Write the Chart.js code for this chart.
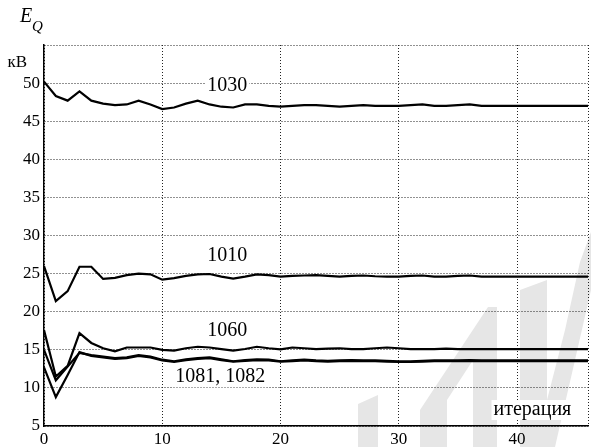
<!DOCTYPE html>
<html>
<head>
<meta charset="utf-8">
<script src="https://cdn.jsdelivr.net/npm/chart.js@4"></script>
<style>
  body { margin: 0; background: #fff; }
  #wrap { width: 591px; height: 447px; }
</style>
</head>
<body>
<div id="wrap"><canvas id="chart" width="591" height="447"></canvas></div>
<script>
// iteration numbers 0..46
const iterations = Array.from({ length: 47 }, (_, i) => i);

// E_Q, kV
const s1030 = [50.2, 48.3, 47.7, 48.9, 47.7, 47.3, 47.1, 47.2, 47.7, 47.2,
               46.6, 46.8, 47.3, 47.7, 47.2, 46.9, 46.8, 47.2, 47.2, 47.0,
               46.9, 47.0, 47.1, 47.1, 47.0, 46.9, 47.0, 47.1, 47.0, 47.0,
               47.0, 47.1, 47.2, 47.0, 47.0, 47.1, 47.2, 47.0, 47.0, 47.0,
               47.0, 47.0, 47.0, 47.0, 47.0, 47.0, 47.0];
const s1010 = [26.0, 21.4, 22.7, 25.9, 25.9, 24.3, 24.45, 24.8, 25.0, 24.9,
               24.2, 24.4, 24.7, 24.9, 24.95, 24.6, 24.35, 24.6, 24.9, 24.8,
               24.6, 24.7, 24.75, 24.8, 24.7, 24.6, 24.7, 24.75, 24.65, 24.6,
               24.6, 24.7, 24.75, 24.6, 24.6, 24.7, 24.75, 24.6, 24.6, 24.6,
               24.6, 24.6, 24.6, 24.6, 24.6, 24.6, 24.6];
const s1060 = [17.6, 11.5, 12.9, 17.2, 15.9, 15.2, 14.8, 15.3, 15.3, 15.3,
               15.0, 14.9, 15.2, 15.4, 15.3, 15.1, 14.9, 15.1, 15.4, 15.2,
               15.05, 15.3, 15.2, 15.1, 15.15, 15.2, 15.1, 15.1, 15.2, 15.3,
               15.2, 15.1, 15.1, 15.1, 15.15, 15.1, 15.1, 15.1, 15.1, 15.1,
               15.1, 15.1, 15.1, 15.1, 15.1, 15.1, 15.1];
const s1081 = [15.0, 11.0, 12.8, 14.6, 14.3, 14.1, 13.9, 14.0, 14.3, 14.1,
               13.7, 13.5, 13.75, 13.9, 14.0, 13.75, 13.5, 13.65, 13.75, 13.7,
               13.5, 13.6, 13.7, 13.6, 13.55, 13.6, 13.65, 13.6, 13.6, 13.55,
               13.5, 13.5, 13.55, 13.6, 13.6, 13.6, 13.65, 13.6, 13.6, 13.6,
               13.6, 13.6, 13.6, 13.6, 13.6, 13.6, 13.6];
const s1082 = [12.7, 8.8, 11.7, 14.7, 14.2, 14.0, 13.8, 13.9, 14.2, 14.0,
               13.6, 13.4, 13.65, 13.8, 13.9, 13.65, 13.45, 13.55, 13.65, 13.6,
               13.45, 13.5, 13.6, 13.5, 13.45, 13.5, 13.55, 13.5, 13.5, 13.45,
               13.4, 13.4, 13.45, 13.5, 13.5, 13.5, 13.55, 13.5, 13.5, 13.5,
               13.5, 13.5, 13.5, 13.5, 13.5, 13.5, 13.5];

const xTicks = [0, 10, 20, 30, 40];
const yTicks = [5, 10, 15, 20, 25, 30, 35, 40, 45, 50];

// curve labels: text, x value, y value
const curveLabels = [
    ['1030', 15.5, 49.7],
    ['1010', 15.5, 27.4],
    ['1060', 15.5, 17.45],
    ['1081, 1082', 14.9, 11.4],
    ['итерация', 41.3, 7.1]
];

const serif = 'Liberation Serif, serif';

const toXY = arr => arr.map((v, i) => ({ x: iterations[i], y: v }));

function lineSet(label, arr) {
    return {
        label: label,
        data: toXY(arr),
        borderColor: '#000',
        borderWidth: 2.2,
        pointRadius: 0,
        tension: 0,
        fill: false
    };
}

// white page + grey watermark behind the grid
const backdrop = {
    id: 'backdrop',
    beforeDraw(chart) {
        const c = chart.ctx;
        c.save();
        c.fillStyle = '#fff';
        c.fillRect(0, 0, chart.width, chart.height);
        c.fillStyle = '#e6e6e6';
        const shapes = [
            [[358, 447], [358, 404], [378, 395], [378, 447]],
            [[420, 447], [420, 410], [488, 307], [497, 307], [497, 447], [473, 447], [473, 360], [447, 400], [447, 447]],
            [[520, 447], [520, 290], [547, 280], [547, 400], [565, 330], [580, 262], [591, 232], [591, 290], [575, 360], [555, 447]]
        ];
        shapes.forEach(pts => {
            c.beginPath();
            pts.forEach((p, i) => i ? c.lineTo(p[0], p[1]) : c.moveTo(p[0], p[1]));
            c.closePath();
            c.fill();
        });
        c.restore();
    }
};

// curve names, axis titles
const texts = {
    id: 'texts',
    afterDatasetsDraw(chart) {
        const c = chart.ctx;
        const xs = chart.scales.x, ys = chart.scales.y;
        c.save();
        c.fillStyle = '#000';
        c.textBaseline = 'middle';
        c.textAlign = 'center';
        c.font = '20px ' + serif;
        curveLabels.forEach(([t, xv, yv]) => {
            const px = xs.getPixelForValue(xv), py = ys.getPixelForValue(yv);
            const w = c.measureText(t).width;
            c.fillStyle = '#fff';
            c.fillRect(px - w / 2 - 2, py - 10, w + 4, 20);
            c.fillStyle = '#000';
            c.fillText(t, px, py);
        });

        c.textAlign = 'left';
        c.font = 'italic 20px ' + serif;
        c.fillText('E', 20, 17);
        c.font = 'italic 15px ' + serif;
        c.fillText('Q', 32, 27);

        c.font = '17px ' + serif;
        c.textAlign = 'right';
        c.fillText('кВ', 27, 63);
        c.restore();
    }
};

new Chart(document.getElementById('chart'), {
    type: 'line',
    data: {
        datasets: [
            lineSet('1030', s1030),
            lineSet('1010', s1010),
            lineSet('1060', s1060),
            lineSet('1081', s1081),
            lineSet('1082', s1082)
        ]
    },
    options: {
        responsive: false,
        devicePixelRatio: 1,
        animation: false,
        layout: { padding: { top: 45, right: 1, left: 0, bottom: 0 } },
        plugins: {
            legend: { display: false },
            tooltip: { enabled: false }
        },
        scales: {
            x: {
                type: 'linear',
                min: 0,
                max: 46,
                afterBuildTicks(scale) {
                    scale.ticks = xTicks.concat([46]).map(v => ({ value: v }));
                },
                afterFit(scale) { scale.height = 21; },
                grid: {
                    color: '#222',
                    lineWidth: 1,
                    drawTicks: false
                },
                // in v4 border.dash dashes the grid lines; the axis line stays solid
                border: { display: true, color: '#000', width: 1.5, dash: [1, 2] },
                ticks: {
                    padding: 3,
                    color: '#000',
                    font: { family: serif, size: 17 },
                    maxRotation: 0,
                    callback: v => (xTicks.includes(v) ? v : '')
                }
            },
            y: {
                min: 5,
                max: 55,
                afterBuildTicks(scale) {
                    scale.ticks = yTicks.concat([55]).map(v => ({ value: v }));
                },
                afterFit(scale) { scale.width = 44; },
                grid: {
                    color: '#222',
                    lineWidth: 1,
                    drawTicks: false
                },
                border: { display: true, color: '#000', width: 1.5, dash: [1, 2] },
                ticks: {
                    padding: 4,
                    color: '#000',
                    font: { family: serif, size: 17 },
                    callback: v => (yTicks.includes(v) ? v : '')
                }
            }
        }
    },
    plugins: [backdrop, texts]
});
</script>
</body>
</html>
